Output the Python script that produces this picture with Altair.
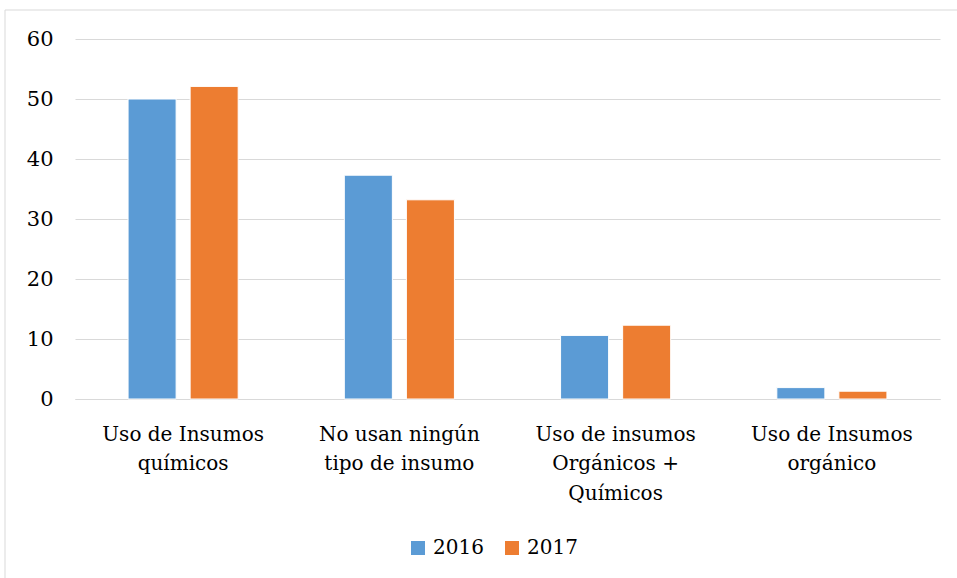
import altair as alt
import pandas as pd

categories = [
    "Uso de Insumos|químicos",
    "No usan ningún|tipo de insumo",
    "Uso de insumos|Orgánicos +|Químicos",
    "Uso de Insumos|orgánico",
]
years = ["2016", "2017"]
values_2016 = [50.0, 37.3, 10.6, 1.9]
values_2017 = [52.1, 33.2, 12.3, 1.3]

rows = []
for c, a, b in zip(categories, values_2016, values_2017):
    rows.append({"cat": c, "year": "2016", "value": a})
    rows.append({"cat": c, "year": "2017", "value": b})
df = pd.DataFrame(rows)

font = "DejaVu Serif"

bars = alt.Chart(df).mark_bar(stroke="white", strokeWidth=1).encode(
    x=alt.X("cat:N", sort=categories, title=None,
            scale=alt.Scale(paddingInner=0, paddingOuter=0),
            axis=alt.Axis(labelAngle=0, labelExpr="split(datum.label, '|')",
                          labelFont=font, labelFontSize=20, labelColor="#000000",
                          labelLineHeight=29.5, labelPadding=25, ticks=False,
                          domainColor="#d9d9d9", labelBaseline="top")),
    xOffset=alt.XOffset("year:N", scale=alt.Scale(paddingInner=0.2258, paddingOuter=0.855)),
    y=alt.Y("value:Q", title=None,
            scale=alt.Scale(domain=[0, 60], nice=False),
            axis=alt.Axis(values=[0, 10, 20, 30, 40, 50, 60], grid=True,
                          gridColor="#d9d9d9", gridWidth=1, domain=False, ticks=False,
                          labelFont=font, labelFontSize=21, labelColor="#000000",
                          labelPadding=22)),
    color=alt.Color("year:N", scale=alt.Scale(domain=years, range=["#5b9bd5", "#ed7d31"]),
                    legend=alt.Legend(title=None, orient="none", direction="horizontal",
                                      legendX=333, legendY=499, symbolType="square",
                                      symbolSize=196, symbolStrokeWidth=0,
                                      labelFont=font, labelFontSize=20, labelColor="#000000",
                                      columnPadding=18, labelOffset=5)),
)

border = alt.Chart(pd.DataFrame({"k": [0]})).mark_rect(
    fill=None, stroke="#d9d9d9", strokeWidth=1, clip=False
).encode(
    x=alt.value(-70), x2=alt.value(900), y=alt.value(-29), y2=alt.value(600)
)

chart = alt.layer(border, bars).properties(
    width=865, height=360,
    background="white",
    autosize=alt.AutoSizeParams(type="none"),
    padding={"left": 75, "top": 39, "right": 17, "bottom": 179},
).configure_view(strokeWidth=0, stroke="transparent")

chart.save("out.html", embed_options={"renderer": "svg", "actions": False})
